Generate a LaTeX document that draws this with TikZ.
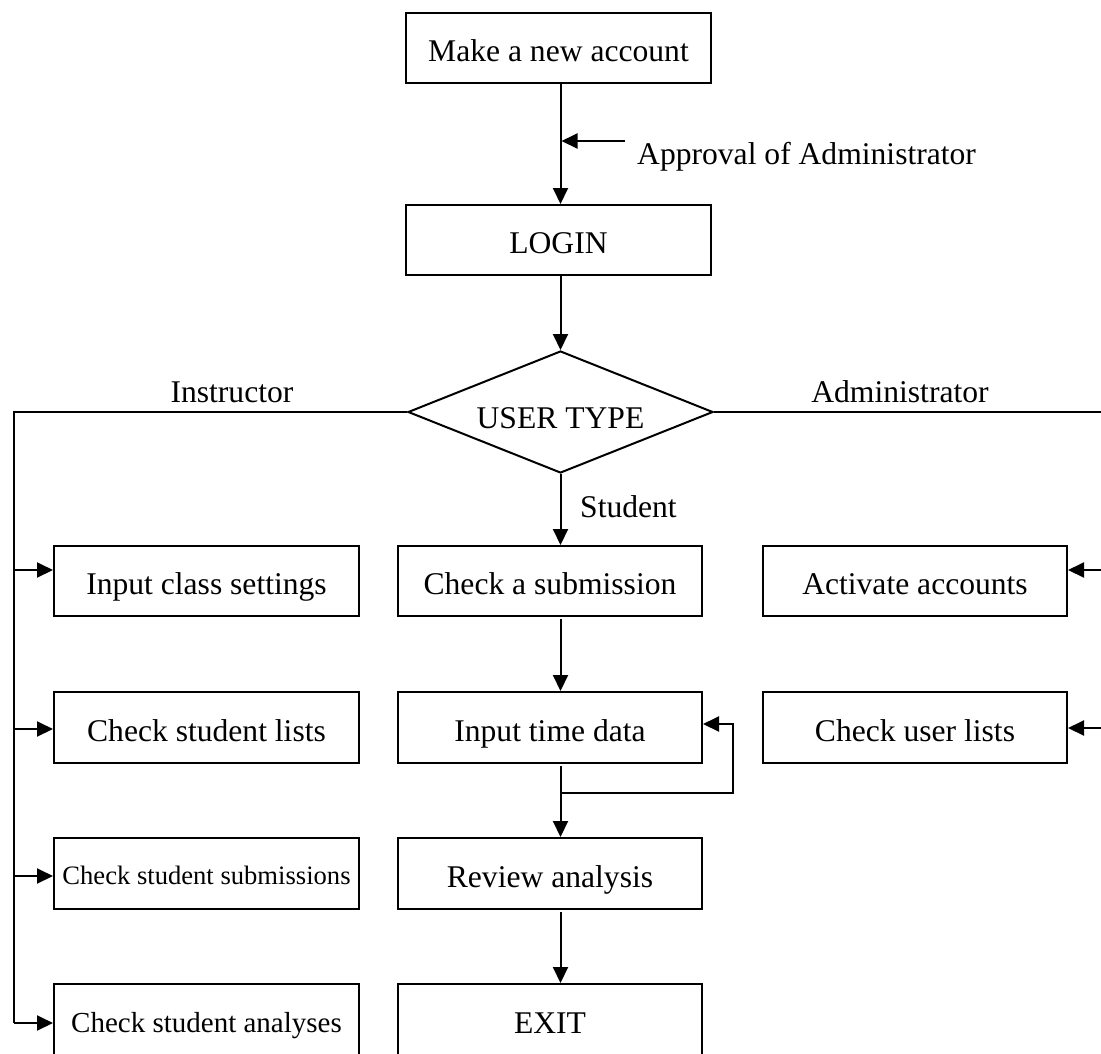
\documentclass[tikz,border=0pt]{standalone}
\usepackage{fontspec}
\setmainfont{Liberation Serif}
\usetikzlibrary{arrows.meta,shapes.geometric}
\begin{document}
\begin{tikzpicture}[x=1pt,y=-1pt,
  ln/.style={line width=2pt},
  box/.style={draw,ln,minimum width=305pt,minimum height=70pt,inner sep=0pt,
    font=\fontsize{31.6}{36}\selectfont,text height=27pt,text depth=0pt},
  lowbox/.style={box,minimum height=100pt,text height=0pt,text depth=2pt},
  lbl/.style={anchor=base,inner sep=0pt,font=\fontsize{31.6}{36}\selectfont},
  arr/.style={ln,-{Triangle[length=16pt,width=15pt]}}]
\useasboundingbox (0,0) rectangle (1101,1053);
\clip (0,0) rectangle (1101,1053);
% top
\node[box] (mk) at (558.5,47.5) {Make a new account};
\node[box] (login) at (558.5,240) {LOGIN};
\node[draw,ln,diamond,minimum width=305pt,minimum height=122pt,inner sep=0pt] (ut) at (560.5,412) {};
\node[lbl] (utl) at (560.5,428) {USER TYPE};
% labels
\node[lbl] (ins) at (232,402) {Instructor};
\node[lbl] (adm) at (900,402) {Administrator};
\node[lbl,anchor=base west] (stu) at (580,517) {Student};
\node[lbl,anchor=base west] (apr) at (637,164) {Approval of Administrator};
% left column
\node[box] (ics) at (206.5,581) {Input class settings};
\node[box,minimum height=71pt] (csl) at (206.5,727.5) {Check student lists};
\node[box,minimum height=71pt,font=\fontsize{26.6}{30}\selectfont,text height=21pt] (css) at (206.5,873.5) {Check student submissions};
\node[lowbox,font=\fontsize{29}{33}\selectfont,text depth=4pt] (csa) at (206.5,1034) {Check student analyses};
% middle column
\node[box,minimum width=304pt] (csub) at (550,581) {Check a submission};
\node[box,minimum width=304pt,minimum height=71pt] (itd) at (550,727.5) {Input time data};
\node[box,minimum width=304pt,minimum height=71pt] (rev) at (550,873.5) {Review analysis};
\node[lowbox,minimum width=304pt] (ex) at (550,1034) {EXIT};
% right column
\node[box,minimum width=304pt] (act) at (915,581) {Activate accounts};
\node[box,minimum width=304pt,minimum height=71pt] (cul) at (915,727.5) {Check user lists};
% main flow
\draw[arr] (mk.south -| ut.north) -- (login.north -| ut.north);
\coordinate (apS) at (625,141);
\draw[arr,shorten >=1pt] (apS) -- (apS -| ut.north);
\draw[arr] (login.south -| ut.north) -- (ut.north);
\draw[arr] (ut.south) -- (ut.south |- csub.north);
\draw[arr,shorten <=2pt] (csub.south -| ut.south) -- (itd.north -| ut.south);
\draw[arr,shorten <=2pt] (itd.south -| ut.south) -- (rev.north -| ut.south);
\coordinate (lp) at (733,793);
\coordinate (itdE) at ([yshift=3.5pt]itd.east);
\draw[arr] (lp -| ut.south) -- (lp) -- (itdE -| lp) -- (itdE);
\draw[arr,shorten <=2pt] (rev.south -| ut.south) -- (ex.north -| ut.south);
% instructor branch
\coordinate (L) at (14,412);
\coordinate (a1) at ([yshift=11pt]ics.west);
\coordinate (a2) at ([yshift=-1.5pt]csl.west);
\coordinate (a3) at ([yshift=-2.5pt]css.west);
\coordinate (a4) at ([yshift=11pt]csa.west);
\draw[ln] (ut.west) -- (L) -- (L |- a4);
\draw[arr] (L |- a1) -- (a1);
\draw[arr] (L |- a2) -- (a2);
\draw[arr] (L |- a3) -- (a3);
\draw[arr] (L |- a4) -- (a4);
% administrator branch
\coordinate (R) at (1101,412);
\draw[ln] (ut.east) -- (R);
\coordinate (b1) at ([yshift=11pt]act.east);
\coordinate (b2) at ([yshift=-0.5pt]cul.east);
\draw[arr] (R |- b1) -- (b1);
\draw[arr] (R |- b2) -- (b2);
\end{tikzpicture}
\end{document}
